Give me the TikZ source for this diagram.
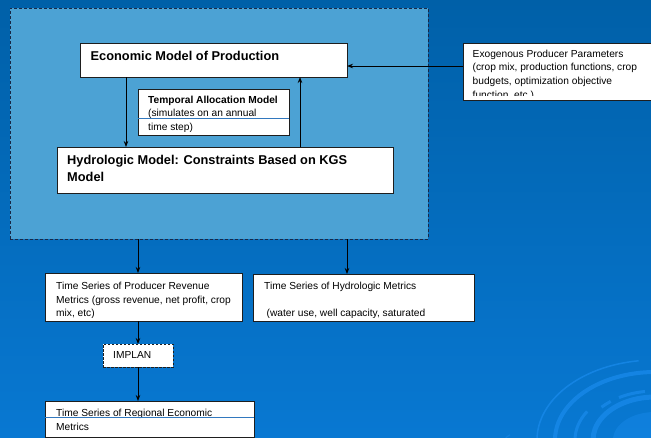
\documentclass[tikz,border=0pt]{standalone}
\usepackage{fontspec}
\setmainfont{Liberation Sans}
\usetikzlibrary{arrows.meta}
\definecolor{bgtop}{RGB}{0,96,168}
\definecolor{bgbot}{RGB}{8,120,210}
\definecolor{framefill}{RGB}{76,162,212}
\definecolor{frameline}{RGB}{25,40,70}
\definecolor{arcblue}{RGB}{25,138,235}
\definecolor{rule}{RGB}{50,120,190}
\definecolor{boxline}{RGB}{30,30,30}
\tikzset{
  box/.style={draw=boxline, line width=0.9pt, fill=white, inner sep=0pt, outer sep=0pt, anchor=north west},
  dbox/.style={box, dashed, dash pattern=on 2.5pt off 1.5pt},
  txt/.style={anchor=base west, inner sep=0pt, font=\fontsize{10.2}{13}\selectfont},
  btxt/.style={anchor=base west, inner sep=0pt, font=\fontsize{10.2}{13}\selectfont\bfseries},
  htxt/.style={anchor=base west, inner sep=0pt, font=\fontsize{12.8}{16}\selectfont\bfseries},
  arr/.style={draw=black, line width=0.9pt, -{Stealth[length=6pt,width=4.5pt]}},
  deco/.style={draw=arcblue, opacity=0.75},
}
\begin{document}
\begin{tikzpicture}[x=1pt,y=-1pt]
\useasboundingbox (0,0) rectangle (651,437);
\shade[top color=bgtop, bottom color=bgbot] (0,0) rectangle (651,437);
% decorative arcs (bottom right)
\begin{scope}
\clip (0,0) rectangle (651,437);
\fill[arcblue, opacity=0.45] (655,440) ellipse[x radius=42, y radius=28];
\draw[deco, line width=1.5pt] (655,440) ++(180:118 and 80) arc[start angle=180, end angle=262, x radius=118, y radius=80];
\draw[deco, line width=1.5pt] (655,440) ++(268:118 and 80) arc[start angle=268, end angle=275, x radius=118, y radius=80];
\draw[deco, line width=4pt] (655,440) ++(180:100 and 68) arc[start angle=180, end angle=275, x radius=100, y radius=68];
\draw[deco, line width=3pt] (655,440) ++(180:80 and 54) arc[start angle=180, end angle=212, x radius=80, y radius=54];
\draw[deco, line width=3pt] (655,440) ++(222:72 and 49) arc[start angle=222, end angle=232, x radius=72, y radius=49];
\draw[deco, line width=3pt] (655,440) ++(240:72 and 49) arc[start angle=240, end angle=262, x radius=72, y radius=49];
\draw[deco, line width=5pt] (655,440) ++(180:62 and 43) arc[start angle=180, end angle=275, x radius=62, y radius=43];
\draw[deco, line width=1.2pt, opacity=0.5] (655,440) ++(180:150 and 20) arc[start angle=180, end angle=195, x radius=150, y radius=20];
\end{scope}
% large dashed frame
\node[draw=frameline, fill=framefill, line width=0.8pt, dash pattern=on 3pt off 2pt, inner sep=0pt, outer sep=0pt, anchor=north west, minimum width=418pt, minimum height=231pt] (frame) at (10,8) {};
% boxes
\node[box, minimum width=267pt, minimum height=34pt] (econ) at (80,43) {};
\node[box, minimum width=151pt, minimum height=46pt] (temp) at (138,89) {};
\node[box, minimum width=336pt, minimum height=46pt] (hydro) at (57,147) {};
\node[box, minimum width=188pt, minimum height=57pt] (exo) at (463,43) {};
\node[box, minimum width=197pt, minimum height=48pt] (prod) at (45,273) {};
\node[box, minimum width=221pt, minimum height=47pt] (hmet) at (253,274) {};
\node[dbox, minimum width=70pt, minimum height=23pt] (implan) at (103,344) {};
\node[box, minimum width=209pt, minimum height=36pt] (reg) at (45,401) {};
% texts
\node[htxt] (econt) at (90.5,60) {Economic Model of Production};
\begin{scope}
\clip (138,89) rectangle (289,131.6);
\node[btxt] (tempt1) at (148,103.3) {Temporal Allocation Model};
\node[txt] (tempt2) at (148,116.7) {(simulates on an annual};
\node[txt] (tempt3) at (148,130.3) {time step)};
\end{scope}
\draw[rule, line width=0.8pt] (temp.west |- 0,118.8) -- (temp.east |- 0,118.8);
\node[htxt] (hydt1) at (67,164.5) {Hydrologic Model: Constraints Based on KGS};
\node[htxt] (hydt2) at (67,181) {Model};
\begin{scope}
\clip (463,43) rectangle (651,95.3);
\node[txt] (exot1) at (472.5,57.2) {Exogenous Producer Parameters};
\node[txt] (exot2) at (472.5,70.8) {(crop mix, production functions, crop};
\node[txt] (exot3) at (472.5,84.4) {budgets, optimization objective};
\node[txt] (exot4) at (472.5,98.2) {function, etc.)};
\end{scope}
\begin{scope}
\clip (45,273) rectangle (242,317.6);
\node[txt] (prodt1) at (56,289) {Time Series of Producer Revenue};
\node[txt] (prodt2) at (56,303) {Metrics (gross revenue, net profit, crop};
\node[txt] (prodt3) at (56,316.6) {mix, etc)};
\end{scope}
\begin{scope}
\clip (253,274) rectangle (474,317.4);
\node[txt] (hmett1) at (264,289) {Time Series of Hydrologic Metrics};
\node[txt] (hmett2) at (266.5,316.2) {(water use, well capacity, saturated};
\end{scope}
\node[txt] (implant) at (113,358.3) {IMPLAN};
\node[txt] (regt1) at (56,416) {Time Series of Regional Economic};
\draw[rule, line width=0.8pt] (reg.west |- 0,417.3) -- (reg.east |- 0,417.3);
\node[txt] (regt2) at (56,430) {Metrics};
% connectors
\draw[arr] ([xshift=46pt]econ.south west) -- ([xshift=69pt]hydro.north west);
\draw[arr] ([xshift=243pt]hydro.north west) -- ([xshift=220pt]econ.south west);
\draw[arr] (exo.west |- 0,66) -- (econ.east |- 0,66);
\draw[arr] ([xshift=128pt]frame.south west) -- ([xshift=128pt]frame.south west |- prod.north);
\draw[arr] ([xshift=337pt]frame.south west) -- ([xshift=337pt]frame.south west |- hmet.north);
\draw[arr] (prod.south -| implan.north) -- (implan.north);
\draw[arr] (implan.south) -- (implan.south |- reg.north);
\end{tikzpicture}
\end{document}
